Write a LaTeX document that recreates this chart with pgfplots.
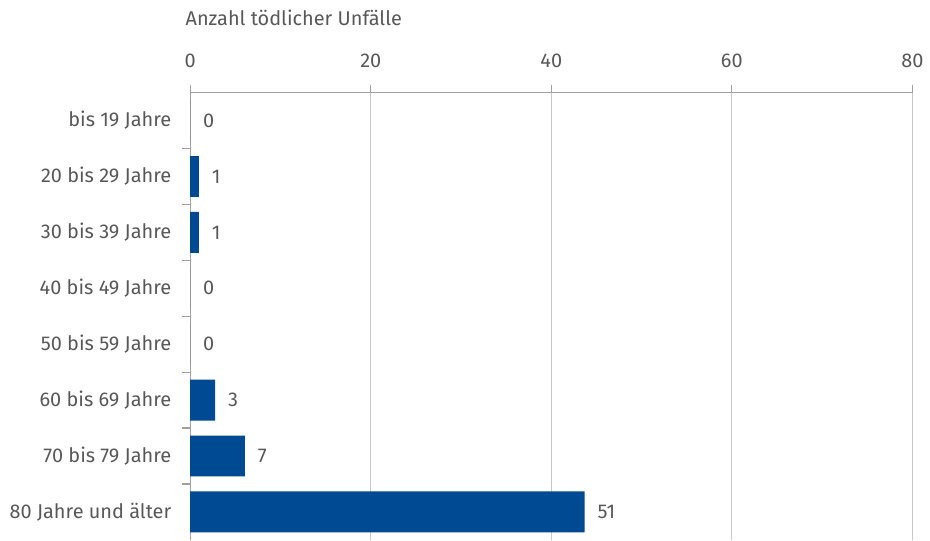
\documentclass[border=0pt]{standalone}
\usepackage{pgfplots}
\pgfplotsset{compat=1.18}
\usepackage{fontspec}
\setmainfont{Fira Sans}
\definecolor{barblue}{RGB}{0,74,147}
\definecolor{txtgray}{RGB}{88,88,88}
\definecolor{gridgray}{RGB}{200,200,200}
\definecolor{axgray}{RGB}{160,160,160}
\begin{document}
\begin{tikzpicture}[font=\fontsize{10}{12}\selectfont]
\begin{axis}[
  scale only axis,
  width=362.5pt, height=224.5pt,
  xmin=0, xmax=80,
  ymin=-0.5, ymax=7.5,
  y dir=reverse,
  axis x line*=top,
  axis y line*=left,
  axis line style={axgray, line width=0.6pt},
  xtick={0,20,40,60,80},
  xmajorgrids,
  grid style={gridgray, line width=0.6pt},
  x tick style={axgray, line width=0.6pt},
  tick align=outside,
  major tick length=4pt,
  ytick={0,...,7},
  yticklabels={bis 19 Jahre, 20 bis 29 Jahre, 30 bis 39 Jahre, 40 bis 49 Jahre,
    50 bis 59 Jahre, 60 bis 69 Jahre, 70 bis 79 Jahre, 80 Jahre und älter},
  y tick style={draw=none},
  minor ytick={0.5,1.5,...,6.5},
  minor y tick style={axgray, line width=0.6pt, draw=axgray},
  minor tick length=4pt,
  ticklabel style={txtgray},
  yticklabel style={xshift=-2pt},
  xticklabel style={yshift=5pt},
  /pgf/number format/assume math mode=true,
  xbar, bar width=20.5pt,
  point meta=explicit symbolic,
  nodes near coords,
  nodes near coords style={txtgray, anchor=west, xshift=3pt},
]
\addplot[fill=barblue, draw=none] coordinates {
  (0,0) [0]
  (0.96,1) [1]
  (0.96,2) [1]
  (0,3) [0]
  (0,4) [0]
  (2.75,5) [3]
  (6.05,6) [7]
  (43.7,7) [51]
};
\end{axis}
\node[anchor=base west, inner sep=0, txtgray] at ([xshift=-2.5pt, yshift=33.5pt]current axis.north west) {Anzahl tödlicher Unfälle};
\path ([xshift=-95.5pt]current axis.south west) rectangle ++(465pt,271pt);
\end{tikzpicture}
\end{document}
